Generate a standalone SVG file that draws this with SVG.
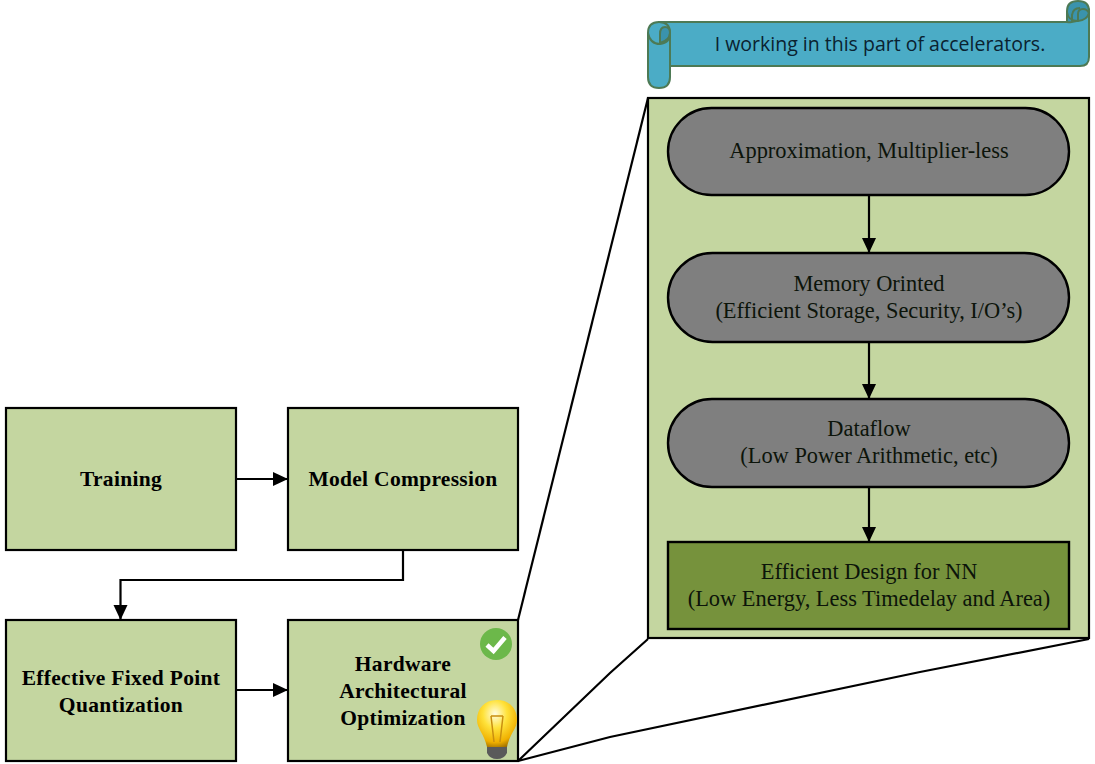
<svg xmlns="http://www.w3.org/2000/svg" width="1095" height="764" viewBox="0 0 1095 764">
<defs>
<marker id="arr" markerUnits="userSpaceOnUse" markerWidth="16" markerHeight="16" refX="15" refY="8" orient="auto"><path d="M0 1L15 8L0 15Z" fill="#000"/></marker>
<radialGradient id="bulb" cx="0.45" cy="0.3" r="0.75"><stop offset="0" stop-color="#fffde0"/><stop offset="0.4" stop-color="#ffe23a"/><stop offset="0.8" stop-color="#f0b000"/><stop offset="1" stop-color="#9a6c00"/></radialGradient>
</defs>
<style>
.box{fill:#c4d6a0;stroke:#000;stroke-width:2.200}
.pill{fill:#7f7f7f;stroke:#000;stroke-width:2.400}
.t{font-family:"Liberation Serif",serif;font-size:22.400px;text-anchor:middle;fill:#0c140a}
.b{font-weight:bold;fill:#000;font-size:21.500px;letter-spacing:.3px}
.c{fill:none;stroke:#000;stroke-width:2.200}
.ca{fill:none;stroke:#000;stroke-width:2.200;marker-end:url(#arr)}
.s{fill:#4bacc6;stroke:#4d7a55;stroke-width:2}
.sd{fill:#3a93ad;stroke:#4d7a55;stroke-width:2}
</style>
<rect width="1095" height="764" fill="#fff"/>
<g id="panel"><rect class="box" x="648" y="98" width="441" height="540"/></g>
<g id="connectors">
<path class="ca" d="M236 479H288"/>
<path class="ca" d="M403 550V580H120.500V620"/>
<path class="ca" d="M236 690H288"/>
<path class="ca" d="M869 195V253"/>
<path class="ca" d="M869 342V399"/>
<path class="ca" d="M869 487V542"/>
<path class="c" d="M518 620L648 98"/>
<path class="c" d="M518 761L610 673L648 639"/>
<path class="c" d="M518 761L610 737L920 672L1089 639"/>
</g>
<g id="training"><rect class="box" x="6" y="408" width="230" height="142"/><text class="t b" x="121" y="486">Training</text></g>
<g id="compression"><rect class="box" x="288" y="408" width="230" height="142"/><text class="t b" x="403" y="486">Model Compression</text></g>
<g id="quantization"><rect class="box" x="6" y="620" width="230" height="141"/><text class="t b" x="121" y="685">Effective Fixed Point</text><text class="t b" x="121" y="712">Quantization</text></g>
<g id="hardware"><rect class="box" x="288" y="620" width="230" height="141"/><text class="t b" x="403" y="671">Hardware</text><text class="t b" x="403" y="698">Architectural</text><text class="t b" x="403" y="725">Optimization</text>
<circle cx="496" cy="644" r="16" fill="#6cb84a"/><path d="M487 645L493.500 651L505 637.500" fill="none" stroke="#fff" stroke-width="4.500"/>
<path d="M497 700C484 700 477 709 477 720C477 729 484 733 487 747H507C510 733 517 729 517 720C517 709 510 700 497 700Z" fill="url(#bulb)"/>
<path d="M491 716L494 742M503 716L500 742M491 716H503" fill="none" stroke="#c98f10" stroke-width="1.500"/>
<path d="M487 747H507V753Q504 759 497 759Q490 759 487 753Z" fill="#5a5a5a"/></g>
<g id="scroll">
<path class="sd" d="M1067 24V11Q1067 1 1078 1Q1089 1 1089 11V24Z"/>
<path class="s" d="M659 22H1067Q1080 24 1089 11V57Q1089 66 1080 66H670V44H659Z"/>
<path class="s" d="M648 33V77Q648 88 659 88Q670 88 670 77V33Q670 22 659 22Q648 22 648 33Z"/>
<path class="sd" d="M660 43V34Q660 27 665 27Q670 27 670 33Q670 40 660 43Z"/>
<path class="c" style="stroke:#4d7a55;stroke-width:2" d="M648 33Q650 44 660 44Q670 43 670 33"/>
<path class="sd" d="M1078 21V14Q1078 9 1083 9Q1087 9 1089 13Q1087 20 1078 21Z"/>
<path class="c" style="stroke:#4d7a55;stroke-width:2" d="M1067 12Q1068 21 1078 21M1072 22V15Q1073 8 1080 8"/>
<text x="880" y="51" text-anchor="middle" font-family="Open Sans, sans-serif" font-size="19.500" fill="#0a2230">I working in this part of accelerators.</text>
</g>
<g id="approximation"><rect class="pill" x="668" y="108" width="401" height="87" rx="43.500"/><text class="t" x="869" y="158">Approximation, Multiplier-less</text></g>
<g id="memory"><rect class="pill" x="668" y="253" width="401" height="89" rx="44.500"/><text class="t" x="869" y="291">Memory Orinted</text><text class="t" x="869" y="318">(Efficient Storage, Security, I/O’s)</text></g>
<g id="dataflow"><rect class="pill" x="668" y="399" width="401" height="88" rx="44"/><text class="t" x="869" y="436">Dataflow</text><text class="t" x="869" y="463">(Low Power Arithmetic, etc)</text></g>
<g id="efficient"><rect x="668" y="542" width="401" height="87" fill="#76923c" stroke="#000" stroke-width="2.400"/><text class="t" x="869" y="579">Efficient Design for NN</text><text class="t" x="869" y="606">(Low Energy, Less Timedelay and Area)</text></g>
</svg>
